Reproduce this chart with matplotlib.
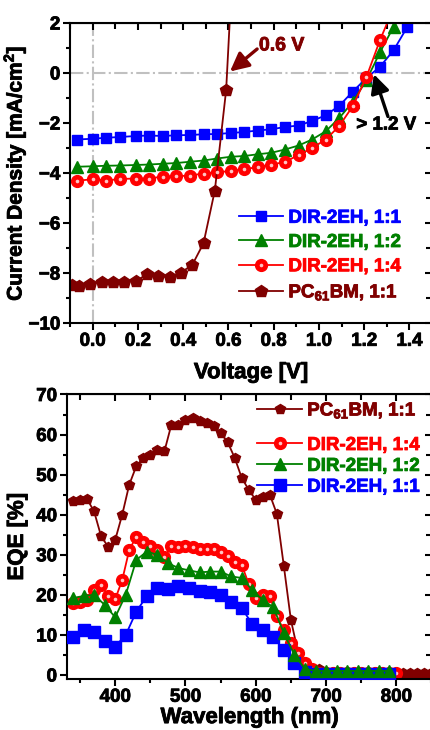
import matplotlib.pyplot as plt
import matplotlib.patheffects as pe
from matplotlib.legend_handler import HandlerTuple
from matplotlib.ticker import MultipleLocator

plt.rcParams["font.family"] = "Liberation Sans"
plt.rcParams["font.weight"] = "bold"
plt.rcParams["mathtext.fontset"] = "custom"
plt.rcParams["mathtext.rm"] = "Liberation Sans:bold"
plt.rcParams["mathtext.it"] = "Liberation Sans:bold"
plt.rcParams["mathtext.bf"] = "Liberation Sans:bold"

BLUE = "#0000ff"
GREEN = "#008000"
RED = "#ff0000"
DARKRED = "#800000"

# J-V data (voltage in V, current density in mA/cm2)
volt = [-0.07, 0.0, 0.06, 0.12, 0.19, 0.25, 0.31, 0.37, 0.43, 0.49, 0.55, 0.61,
        0.67, 0.73, 0.79, 0.85, 0.91, 0.97, 1.03, 1.09, 1.15, 1.21, 1.27, 1.33, 1.39]
j_11 = [-2.66, -2.63, -2.59, -2.56, -2.52, -2.50, -2.52, -2.49, -2.48, -2.45, -2.44, -2.40,
        -2.36, -2.30, -2.25, -2.16, -2.10, -1.92, -1.69, -1.31, -0.74, -0.20, 0.25, 0.91, 1.83]
j_12 = [-3.75, -3.73, -3.71, -3.70, -3.68, -3.66, -3.63, -3.60, -3.55, -3.50, -3.42, -3.35,
        -3.32, -3.25, -3.19, -3.06, -2.90, -2.66, -2.33, -1.80, -1.15, -0.29, 0.83, 1.85]
j_14 = [-4.31, -4.25, -4.30, -4.24, -4.22, -4.22, -4.14, -4.13, -4.10, -4.02, -3.97, -3.92,
        -3.85, -3.76, -3.66, -3.56, -3.28, -3.00, -2.66, -2.12, -1.32, -0.16, 1.32, 2.60]
volt_pc = [-0.09, -0.06, -0.01, 0.04, 0.09, 0.14, 0.19, 0.24, 0.29, 0.34, 0.39, 0.44,
           0.49, 0.54, 0.59, 0.64]
j_pc = [-8.46, -8.52, -8.42, -8.35, -8.35, -8.35, -8.33, -8.05, -8.13, -8.17, -7.98, -7.68,
        -6.81, -4.70, -0.68, 8.0]

# EQE data (wavelength in nm, EQE in %)
wl_a = [340, 355, 370, 385, 400, 415, 430, 445, 460, 475, 490, 505, 520, 535, 550, 565,
        580, 595, 610, 625, 640, 655, 670, 685, 700, 715, 730, 745, 760, 775, 790]
eqe_11 = [9.6, 11.2, 10.8, 8.6, 7.1, 10.0, 15.8, 19.7, 21.7, 21.4, 22.1, 21.7, 21.0, 20.6,
          20.0, 18.3, 16.7, 12.7, 11.2, 9.4, 6.2, 2.9, 0.8, 0.3, 0.3, 0.3, 0.3, 0.3, 0.3,
          0.3, 0.3]
eqe_12 = [19.2, 19.7, 20.0, 17.5, 14.4, 20.0, 28.7, 30.8, 30.0, 27.9, 26.7, 26.1, 25.6, 25.8,
          25.8, 24.6, 24.2, 21.2, 18.7, 16.9, 10.4, 5.0, 1.5, 1.0, 1.0, 1.0, 1.0, 1.0, 1.0,
          1.0, 1.0]
wl_b = [340, 350, 360, 370, 380, 390, 400, 410, 420, 430, 440, 450, 460, 470, 480, 490,
        500, 510, 520, 530, 540, 550, 560, 570, 580, 590, 600, 610, 620, 630, 640, 650,
        660, 670, 680, 690, 700, 710, 720, 730, 740, 750, 760, 770, 780, 790, 800]
eqe_14 = [17.9, 18.3, 18.7, 21.2, 22.5, 19.7, 18.9, 23.7, 31.2, 34.5, 33.1, 32.2, 31.1, 29.4,
          32.2, 31.9, 32.1, 31.9, 31.4, 31.4, 31.4, 30.6, 29.6, 28.3, 27.5, 22.7, 19.1, 20.0,
          19.6, 14.6, 11.2, 7.9, 5.4, 2.9, 1.5, 0.5, 0.4, 0.4, 0.4, 0.4, 0.4, 0.4, 0.4, 0.4,
          0.4, 0.4, 0.4]
wl_pc = [340, 350, 360, 370, 380, 390, 400, 410, 420, 430, 440, 450, 460, 470, 480, 490,
         500, 510, 520, 530, 540, 550, 560, 570, 580, 590, 600, 610, 620, 630, 640, 650,
         660, 670, 680, 690, 700, 710, 720, 730, 740, 750, 760, 770, 780, 790, 800, 810,
         820, 830, 840, 850]
eqe_pc = [43.3, 43.7, 43.9, 40.8, 34.6, 32.0, 33.7, 40.0, 47.5, 52.1, 54.2, 55.0, 56.2, 55.8,
          62.5, 62.5, 63.6, 64.1, 63.5, 62.9, 62.1, 60.4, 58.1, 54.2, 49.2, 46.2, 43.7, 44.5,
          45.0, 40.2, 27.1, 13.7, 5.8, 2.5, 1.5, 1.5, 0.8, 0.4, 0.4, 0.4, 0.4, 0.4, 0.4, 0.4,
          0.4, 0.4, 0.4, 0.4, 0.4, 0.4, 0.4, 0.4]

LBL_11 = "DIR-2EH, 1:1"
LBL_12 = "DIR-2EH, 1:2"
LBL_14 = "DIR-2EH, 1:4"
LBL_PC = "PC$_{61}$BM, 1:1"

fig = plt.figure(figsize=(4.3, 7.3), dpi=100)
ax1 = fig.add_axes([0.1628, 0.5575, 0.842, 0.411])
ax2 = fig.add_axes([0.1551, 0.0699, 0.850, 0.3897])


def heavy(txt, color="black"):
    # thicken the glyphs a little, the original uses a heavy Arial Bold
    txt.set_path_effects([pe.withStroke(linewidth=0.6, foreground=color)])


def sphere(ax, x, y):
    # small light highlight to mimic Origin's sphere symbol
    h, = ax.plot(x, y, "o", color="#ffc4c4", ms=2.6, mec="none", zorder=5)
    return h


def base_ticks(ax):
    for side in ["left", "bottom", "top", "right"]:
        ax.spines[side].set_linewidth(1.5)
    ax.tick_params(which="both", direction="out", width=1.5, labelsize=13.5, pad=2,
                   top=False, right=False)
    ax.tick_params(which="major", length=5)
    ax.tick_params(which="minor", length=3)


def make_legend(ax, handles, labels, colors, anchor, spacing):
    leg = ax.legend(handles, labels, handler_map={tuple: HandlerTuple(ndivide=1)},
                    loc="upper left", bbox_to_anchor=anchor, frameon=False,
                    fontsize=13.5, handlelength=2.35, handletextpad=0.3,
                    labelspacing=spacing, borderpad=0, borderaxespad=0)
    for txt, c in zip(leg.get_texts(), colors):
        txt.set_color(c)
        heavy(txt, c)
    return leg


# ---------- J-V plot ----------
ax1.axhline(0, color="#c0c0c0", lw=1.5, ls="-.", zorder=0)
ax1.axvline(0, color="#c0c0c0", lw=1.5, ls="-.", zorder=0)

l11, = ax1.plot(volt, j_11, "-s", color=BLUE, ms=7, lw=1.3)
l12, = ax1.plot(volt[:len(j_12)], j_12, "-^", color=GREEN, ms=8, lw=1.3)
l14, = ax1.plot(volt[:len(j_14)], j_14, "-o", color=RED, ms=8.5, lw=1.3)
h14 = sphere(ax1, volt[:len(j_14)], j_14)
lpc, = ax1.plot(volt_pc, j_pc, "-p", color=DARKRED, ms=9, lw=1.3)

ax1.set_xlim(-0.1, 1.5)
ax1.set_ylim(-10, 2)
ax1.xaxis.set_major_locator(MultipleLocator(0.2))
ax1.xaxis.set_minor_locator(MultipleLocator(0.1))
ax1.yaxis.set_major_locator(MultipleLocator(2))
ax1.yaxis.set_minor_locator(MultipleLocator(1))
ax1.xaxis.set_major_formatter(lambda v, p: f"{v:.1f}")
base_ticks(ax1)
ax1.set_xlabel("Voltage [V]", fontsize=16, fontweight="bold", labelpad=9)
ax1.set_ylabel("Current Density [mA/cm$^2$]", fontsize=15, fontweight="bold")
ax1.yaxis.set_label_coords(-0.117, 0.5)

arrow = dict(arrowstyle="-|>,head_length=0.7,head_width=0.35", lw=2.4,
             mutation_scale=16, shrinkA=0, shrinkB=0)
ax1.annotate("", xy=(0.607, 0.06), xytext=(0.727, 0.96),
             arrowprops=dict(arrow, color=DARKRED))
t = ax1.text(0.735, 1.08, "0.6 V", color=DARKRED, fontsize=14, fontweight="bold",
             va="center", ha="left")
heavy(t, DARKRED)
ax1.annotate("", xy=(1.243, -0.05), xytext=(1.305, -1.74),
             arrowprops=dict(arrow, color="black"))
t = ax1.text(1.165, -2.08, "> 1.2 V", color="black", fontsize=13.5, fontweight="bold",
             va="center", ha="left")
heavy(t)

make_legend(ax1, [l11, l12, (l14, h14), lpc], [LBL_11, LBL_12, LBL_14, LBL_PC],
            [BLUE, GREEN, RED, DARKRED], (0.466, 0.378), 0.38)

# ---------- EQE plot ----------
m11, = ax2.plot(wl_a, eqe_11, "-s", color=BLUE, ms=8, lw=1.3, zorder=3)
m12, = ax2.plot(wl_a, eqe_12, "-^", color=GREEN, ms=8.5, lw=1.3, zorder=3)
m14, = ax2.plot(wl_b, eqe_14, "-o", color=RED, ms=8.5, lw=1.3, zorder=2)
g14 = sphere(ax2, wl_b, eqe_14)
g14.set_zorder(2.5)
mpc, = ax2.plot(wl_pc, eqe_pc, "-p", color=DARKRED, ms=7.5, lw=1.3, zorder=1)

ax2.set_xlim(331, 851)
ax2.set_ylim(-1, 70)
ax2.xaxis.set_major_locator(MultipleLocator(100))
ax2.xaxis.set_minor_locator(MultipleLocator(50))
ax2.yaxis.set_major_locator(MultipleLocator(10))
ax2.yaxis.set_minor_locator(MultipleLocator(5))
base_ticks(ax2)
ax2.set_xlabel("Wavelength (nm)", fontsize=16, fontweight="bold", labelpad=1)
ax2.set_ylabel("EQE [%]", fontsize=16, fontweight="bold")
ax2.yaxis.set_label_coords(-0.106, 0.5)

# PC61BM entry sits a little apart from the three DIR-2EH entries
leg_pc = make_legend(ax2, [mpc], [LBL_PC], [DARKRED], (0.522, 0.979), 0.2)
ax2.add_artist(leg_pc)
make_legend(ax2, [(m14, g14), m12, m11], [LBL_14, LBL_12, LBL_11],
            [RED, GREEN, BLUE], (0.522, 0.851), 0.2)

# inward ticks on the mirrored top/right axes
for ax in (ax1, ax2):
    top = ax.secondary_xaxis("top")
    top.tick_params(which="both", direction="in", width=1.5, labeltop=False)
    top.tick_params(which="major", length=5)
    top.tick_params(which="minor", length=4)
    top.xaxis.set_major_locator(ax.xaxis.get_major_locator())
    top.xaxis.set_minor_locator(ax.xaxis.get_minor_locator())
    right = ax.secondary_yaxis("right")
    right.tick_params(which="both", direction="in", width=1.5, labelright=False)
    right.tick_params(which="major", length=5)
    right.tick_params(which="minor", length=4)
    right.yaxis.set_major_locator(ax.yaxis.get_major_locator())
    right.yaxis.set_minor_locator(ax.yaxis.get_minor_locator())

    for lab in ax.get_xticklabels() + ax.get_yticklabels():
        heavy(lab)
    heavy(ax.xaxis.label)
    heavy(ax.yaxis.label)

fig.savefig("out.png", dpi=100)
